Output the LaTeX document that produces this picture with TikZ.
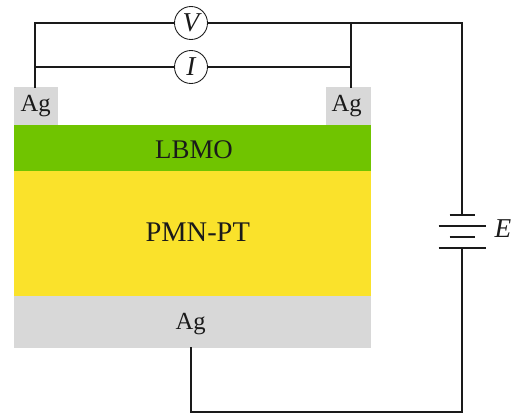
\documentclass[tikz,border=0pt]{standalone}
\usepackage{fontspec}
\setmainfont{Liberation Serif}
\definecolor{aggray}{HTML}{D8D8D8}
\definecolor{lbmogreen}{HTML}{70C400}
\definecolor{pmnyellow}{HTML}{FAE22B}
\definecolor{ink}{HTML}{1A1A1A}
\tikzset{
  layer/.style={inner sep=0pt, minimum width=71.4mm, text=ink, font=\fontsize{14pt}{14pt}\selectfont},
  pad/.style={fill=aggray, inner sep=0pt, minimum width=8.9mm, minimum height=7.6mm, text=ink, font=\fontsize{14pt}{14pt}\selectfont},
  meter/.style={draw=ink, fill=white, circle, line width=0.5pt, inner sep=0pt, minimum size=6.6mm, text=ink, font=\fontsize{15.5pt}{15.5pt}\selectfont\itshape},
  wire/.style={draw=ink, line width=1.3pt, line cap=rect},
  thinwire/.style={draw=ink, line width=1pt}
}
\begin{document}
\begin{tikzpicture}[x=0.2mm, y=-0.2mm]
  \useasboundingbox (0,0) rectangle (514,416);
  % stack
  \node[layer, fill=lbmogreen, minimum height=9.2mm] (lbmo) at (192.5,148) {\raisebox{-6pt}[0pt][0pt]{\fontsize{15.3pt}{15.3pt}\selectfont\kern1.7pt LBMO}};
  \node[layer, fill=pmnyellow, minimum height=25mm] (pmn) at (192.5,233.5) {\raisebox{-4.3pt}[0pt][0pt]{\fontsize{16.2pt}{16.2pt}\selectfont\kern6pt PMN-PT}};
  \node[layer, fill=aggray, minimum height=10.4mm] (agb) at (192.5,322) {\raisebox{-4.4pt}[0pt][0pt]{\kern-2pt Ag}};
  \node[pad] (agl) at (36.2,106) {\kern-0.6pt Ag};
  \node[pad] (agr) at (348.5,106) {\kern-2pt Ag};
  % corners and battery
  \coordinate (tl) at (35,23);
  \coordinate (il) at (35,67);
  \coordinate (ir) at (351,67);
  \coordinate (tm) at (351,23);
  \coordinate (tr) at (462,23);
  \coordinate (plus) at (462,215);
  \coordinate (minus) at (462,248);
  \coordinate (br) at (462,412);
  \coordinate (bl) at (191,412);
  \coordinate (pa) at (462,226);
  \coordinate (pb) at (462,237);
  \node[meter] (volt) at (191,23) {V};
  \node[meter] (amp) at (191,67) {I};
  \node[text=ink, font=\fontsize{15.5pt}{15.5pt}\selectfont\itshape, inner sep=0pt] (emf) at (503,229) {E};
  % wires
  \draw[wire] (agl.north -| tl) -- (tl) -- (volt);
  \draw[wire] (volt) -- (tr) -- (plus);
  \draw[wire] (tm) -- (agr.north -| tm);
  \draw[thinwire] (il) -- (amp);
  \draw[thinwire] (amp) -- (ir);
  \draw[wire] (minus) -- (br) -- (bl) -- (agb.south -| bl);
  % battery plates
  \draw[thinwire] ([xshift=-2.5mm]plus) -- ([xshift=2.5mm]plus);
  \draw[thinwire] ([xshift=-4.7mm]pa) -- ([xshift=4.7mm]pa);
  \draw[thinwire] ([xshift=-2.5mm]pb) -- ([xshift=2.5mm]pb);
  \draw[thinwire] ([xshift=-4.7mm]minus) -- ([xshift=4.7mm]minus);
\end{tikzpicture}
\end{document}
